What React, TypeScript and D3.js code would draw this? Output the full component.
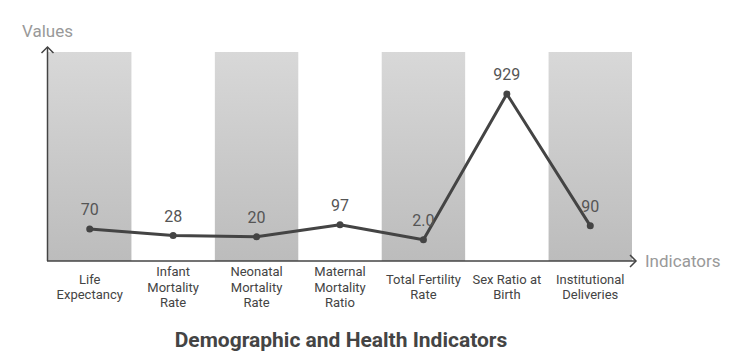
import React, { useEffect, useRef } from 'react';
import * as d3 from 'd3';

const categories = [
  'Life Expectancy',
  'Infant Mortality Rate',
  'Neonatal Mortality Rate',
  'Maternal Mortality Ratio',
  'Total Fertility Rate',
  'Sex Ratio at Birth',
  'Institutional Deliveries',
];
const categoryLines = [
  ['Life', 'Expectancy'],
  ['Infant', 'Mortality', 'Rate'],
  ['Neonatal', 'Mortality', 'Rate'],
  ['Maternal', 'Mortality', 'Ratio'],
  ['Total Fertility', 'Rate'],
  ['Sex Ratio at', 'Birth'],
  ['Institutional', 'Deliveries'],
];
const values = [70, 28, 20, 97, 2.0, 929, 90];
const valueLabels = ['70', '28', '20', '97', '2.0', '929', '90'];

const App = () => {
  const svgRef = useRef<SVGSVGElement>(null);

  useEffect(() => {
    const width = 737;
    const height = 362;
    const left = 48;
    const right = 632;
    const top = 52;
    const bottom = 261;

    d3.select(svgRef.current).selectAll('*').remove();
    const svg = d3.select(svgRef.current)
      .attr('width', width)
      .attr('height', height)
      .style('font-family', 'Roboto, sans-serif');

    const defs = svg.append('defs');
    const grad = defs.append('linearGradient')
      .attr('id', 'bandGrad')
      .attr('x1', 0).attr('y1', 0).attr('x2', 0).attr('y2', 1);
    grad.append('stop').attr('offset', '0%').attr('stop-color', '#d8d8d8');
    grad.append('stop').attr('offset', '100%').attr('stop-color', '#bcbcbc');

    const x = d3.scaleBand().domain(categories).range([left, right]).padding(0);
    const y = d3.scaleLinear().domain([0, 929]).range([240, 94]);

    // alternating bands
    svg.append('g')
      .selectAll('rect')
      .data(categories.filter((_, i) => i % 2 === 0))
      .enter()
      .append('rect')
      .attr('x', d => x(d)!)
      .attr('y', top)
      .attr('width', x.bandwidth())
      .attr('height', bottom - top)
      .attr('fill', 'url(#bandGrad)');

    // axes
    const axisColor = '#444';
    svg.append('line')
      .attr('x1', 47.5).attr('y1', bottom).attr('x2', 47.5).attr('y2', 47)
      .attr('stroke', axisColor).attr('stroke-width', 1.5);
    svg.append('path')
      .attr('d', `M41.5,53 L47.5,47 L53.5,53`)
      .attr('fill', 'none').attr('stroke', axisColor).attr('stroke-width', 1.5);
    svg.append('line')
      .attr('x1', 47).attr('y1', bottom).attr('x2', 636).attr('y2', bottom)
      .attr('stroke', axisColor).attr('stroke-width', 1.5);
    svg.append('path')
      .attr('d', `M630,255 L636,261 L630,267`)
      .attr('fill', 'none').attr('stroke', axisColor).attr('stroke-width', 1.5);

    svg.append('text')
      .attr('x', 22).attr('y', 37)
      .attr('font-size', 17).attr('fill', '#999')
      .text('Values');
    svg.append('text')
      .attr('x', 645).attr('y', 267)
      .attr('font-size', 17).attr('fill', '#999')
      .text('Indicators');

    const cx = (i: number) => x(categories[i])! + x.bandwidth() / 2;

    // line
    const line = d3.line<number>()
      .x((_, i) => cx(i))
      .y(d => y(d));
    svg.append('path')
      .datum(values)
      .attr('d', line)
      .attr('fill', 'none')
      .attr('stroke', '#444')
      .attr('stroke-width', 3)
      .attr('stroke-linejoin', 'round');

    svg.append('g')
      .selectAll('circle')
      .data(values)
      .enter()
      .append('circle')
      .attr('cx', (_, i) => cx(i))
      .attr('cy', d => y(d))
      .attr('r', 3.5)
      .attr('fill', '#444');

    // value labels
    svg.append('g')
      .selectAll('text')
      .data(values)
      .enter()
      .append('text')
      .attr('x', (_, i) => cx(i))
      .attr('y', d => y(d) - 14)
      .attr('text-anchor', 'middle')
      .attr('font-size', 16)
      .attr('fill', '#555')
      .text((_, i) => valueLabels[i]);

    // category labels
    const catG = svg.append('g');
    categoryLines.forEach((lines, i) => {
      const lh = 15.5;
      const startY = 287 - ((lines.length - 1) * lh) / 2;
      const t = catG.append('text')
        .attr('text-anchor', 'middle')
        .attr('font-size', 13)
        .attr('fill', '#444');
      lines.forEach((ln, j) => {
        t.append('tspan')
          .attr('x', cx(i))
          .attr('y', startY + j * lh + 4.5)
          .text(ln);
      });
    });

    svg.append('text')
      .attr('x', 341).attr('y', 347)
      .attr('text-anchor', 'middle')
      .attr('font-size', 21)
      .attr('font-weight', 'bold')
      .attr('fill', '#444')
      .text('Demographic and Health Indicators');
  }, []);

  return <svg ref={svgRef} style={{ display: 'block', position: 'absolute', left: 0, top: 0 }}></svg>;
};

export default App;
